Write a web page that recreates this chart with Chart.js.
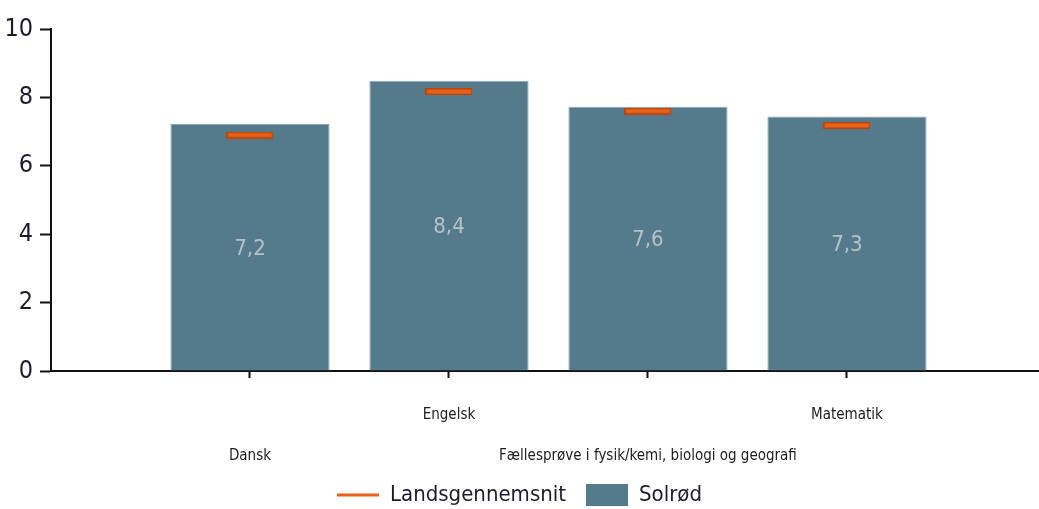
<!DOCTYPE html>
<html>
<head>
<meta charset="utf-8">
<script src="https://cdn.jsdelivr.net/npm/chart.js@4/dist/chart.umd.min.js"></script>
<style>
    html, body { margin: 0; padding: 0; background: #fff; overflow: hidden; }
    #wrap { position: relative; width: 1039px; height: 509px; }
</style>
</head>
<body>
<div id="wrap"><canvas id="chart"></canvas></div>
<script>
(function () {
    'use strict';

    // ── 資料 ────────────────────────────────────────────────
    var CATEGORIES  = ['Dansk', 'Engelsk', 'Fællesprøve i fysik/kemi, biologi og geografi', 'Matematik'];
    var SOLROD      = [7.22, 8.49, 7.73, 7.44];
    var SOLROD_TEXT = ['7,2', '8,4', '7,6', '7,3'];
    var LANDS       = [6.90, 8.17, 7.60, 7.18];
    var Y_TICKS     = [0, 2, 4, 6, 8, 10];

    var FONT = "'DejaVu Sans Condensed', 'Liberation Sans Narrow', 'Arial Narrow', sans-serif";
    var BAR_COLOR = '#557a8c';
    var AVG_COLOR = '#e8621a';
    var AVG_EDGE  = '#b8460c';

    // 平均值標記（小長條）
    function makeMarker() {
        var c = document.createElement('canvas');
        c.width = 47; c.height = 7;
        var g = c.getContext('2d');
        g.fillStyle = AVG_EDGE;
        g.fillRect(0, 0, 47, 7);
        g.fillStyle = AVG_COLOR;
        g.fillRect(1.5, 1.5, 44, 4);
        return c;
    }

    function points(vals) {
        return vals.map(function (v, i) { return { x: i + 1, y: v }; });
    }

    // ── 長條中間的數值 ──────────────────────────────────────
    var valueLabels = {
        id: 'valueLabels',
        afterDatasetsDraw: function (chart) {
            var meta = chart.getDatasetMeta(1);
            var ctx = chart.ctx;
            ctx.save();
            ctx.font = '22px ' + FONT;
            ctx.fillStyle = '#b5c2ca';
            ctx.textAlign = 'center';
            ctx.textBaseline = 'middle';
            meta.data.forEach(function (bar, i) {
                ctx.fillText(SOLROD_TEXT[i], bar.x, (bar.y + bar.base) / 2 + 2);
            });
            ctx.restore();
        }
    };

    new Chart(document.getElementById('chart').getContext('2d'), {
        type: 'bar',
        data: {
            datasets: [{
                type: 'line',
                label: 'Landsgennemsnit',
                data: points(LANDS),
                showLine: false,
                pointStyle: makeMarker(),
                borderColor: AVG_COLOR,
                backgroundColor: AVG_COLOR,
                order: 0
            }, {
                label: 'Solrød',
                data: points(SOLROD),
                backgroundColor: BAR_COLOR,
                borderColor: '#8aa6b4',
                borderWidth: { top: 1, left: 1, right: 1, bottom: 0 },
                categoryPercentage: 0.8,
                barPercentage: 1,
                order: 1
            }]
        },
        options: {
            responsive: true,
            maintainAspectRatio: false,
            animation: false,
            layout: { autoPadding: false, padding: { top: 29, right: 0, left: 0, bottom: -7 } },
            plugins: {
                tooltip: { enabled: false },
                legend: {
                    position: 'bottom',
                    labels: {
                        font: { family: FONT, size: 22 },
                        color: '#1c1c2c',
                        usePointStyle: true,
                        pointStyleWidth: 42,
                        boxHeight: 22,
                        padding: 20,
                        generateLabels: function (chart) {
                            var items = Chart.defaults.plugins.legend.labels.generateLabels(chart);
                            items.forEach(function (it) {
                                if (it.datasetIndex === 0) {
                                    it.pointStyle = 'line';
                                    it.strokeStyle = AVG_COLOR;
                                    it.lineWidth = 3;
                                } else {
                                    it.pointStyle = 'rect';
                                    it.fillStyle = BAR_COLOR;
                                    it.strokeStyle = BAR_COLOR;
                                    it.lineWidth = 0;
                                }
                            });
                            return items;
                        }
                    }
                }
            },
            scales: {
                x: {
                    type: 'linear',
                    min: 0,
                    max: 4.965,
                    offset: false,
                    afterBuildTicks: function (axis) {
                        axis.ticks = CATEGORIES.map(function (c, i) { return { value: i + 1 }; });
                    },
                    afterFit: function (axis) {
                        axis.height = 93;
                        axis.paddingLeft = 0;
                        axis.paddingRight = 0;
                    },
                    border: { color: '#111', width: 2 },
                    grid: { offset: false, drawOnChartArea: false, drawTicks: true, tickLength: 7, tickColor: '#111', tickWidth: 2 },
                    ticks: {
                        autoSkip: false,
                        maxRotation: 0,
                        padding: 17,
                        color: '#1c1c1c',
                        font: { family: FONT, size: 15, lineHeight: '41px' },
                        callback: function (v) {
                            var i = Math.round(v) - 1;
                            // 交錯排列：Dansk 與 Fællesprøve 放第二行
                            return i % 2 === 0 ? ['', CATEGORIES[i]] : [CATEGORIES[i]];
                        }
                    }
                },
                y: {
                    min: 0,
                    max: 10,
                    afterBuildTicks: function (axis) {
                        axis.ticks = Y_TICKS.map(function (v) { return { value: v }; });
                    },
                    afterFit: function (axis) { axis.width = 51; },
                    border: { color: '#111', width: 2 },
                    grid: { drawOnChartArea: false, drawTicks: true, tickLength: 11, tickColor: '#111', tickWidth: 2 },
                    ticks: {
                        padding: 7,
                        color: '#1c1c2c',
                        font: { family: FONT, size: 25 }
                    }
                }
            }
        },
        plugins: [valueLabels]
    });
})();
</script>
</body>
</html>
